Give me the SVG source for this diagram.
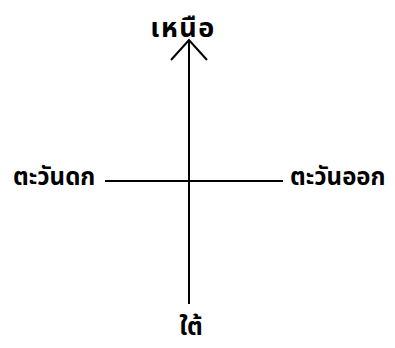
<svg xmlns="http://www.w3.org/2000/svg" width="395" height="348" viewBox="0 0 395 348">
<style>
.t{font-family:"Noto Sans Thai","Loma","Garuda","Tlwg Typo","Noto Sans","DejaVu Sans",sans-serif;font-size:24px;font-weight:bold;fill:#000}
.n{font-size:27px;letter-spacing:1.5px}
.l{stroke:#000;stroke-width:2;fill:none}
</style>
<rect width="395" height="348" fill="#fff"/>
<g id="connectors">
<line class="l" x1="189" y1="41" x2="189" y2="304"/>
<line class="l" x1="105" y1="181" x2="283" y2="181"/>
<polyline class="l" points="171,60 189,40 207,60"/>
</g>
<g id="north"><text class="t n" x="183" y="37" text-anchor="middle">เหนือ</text></g>
<g id="west"><text class="t" x="13" y="185">ตะวันดก</text></g>
<g id="east"><text class="t" x="290" y="185">ตะวันออก</text></g>
<g id="south"><text class="t" x="191" y="335" text-anchor="middle">ใต้</text></g>
</svg>
